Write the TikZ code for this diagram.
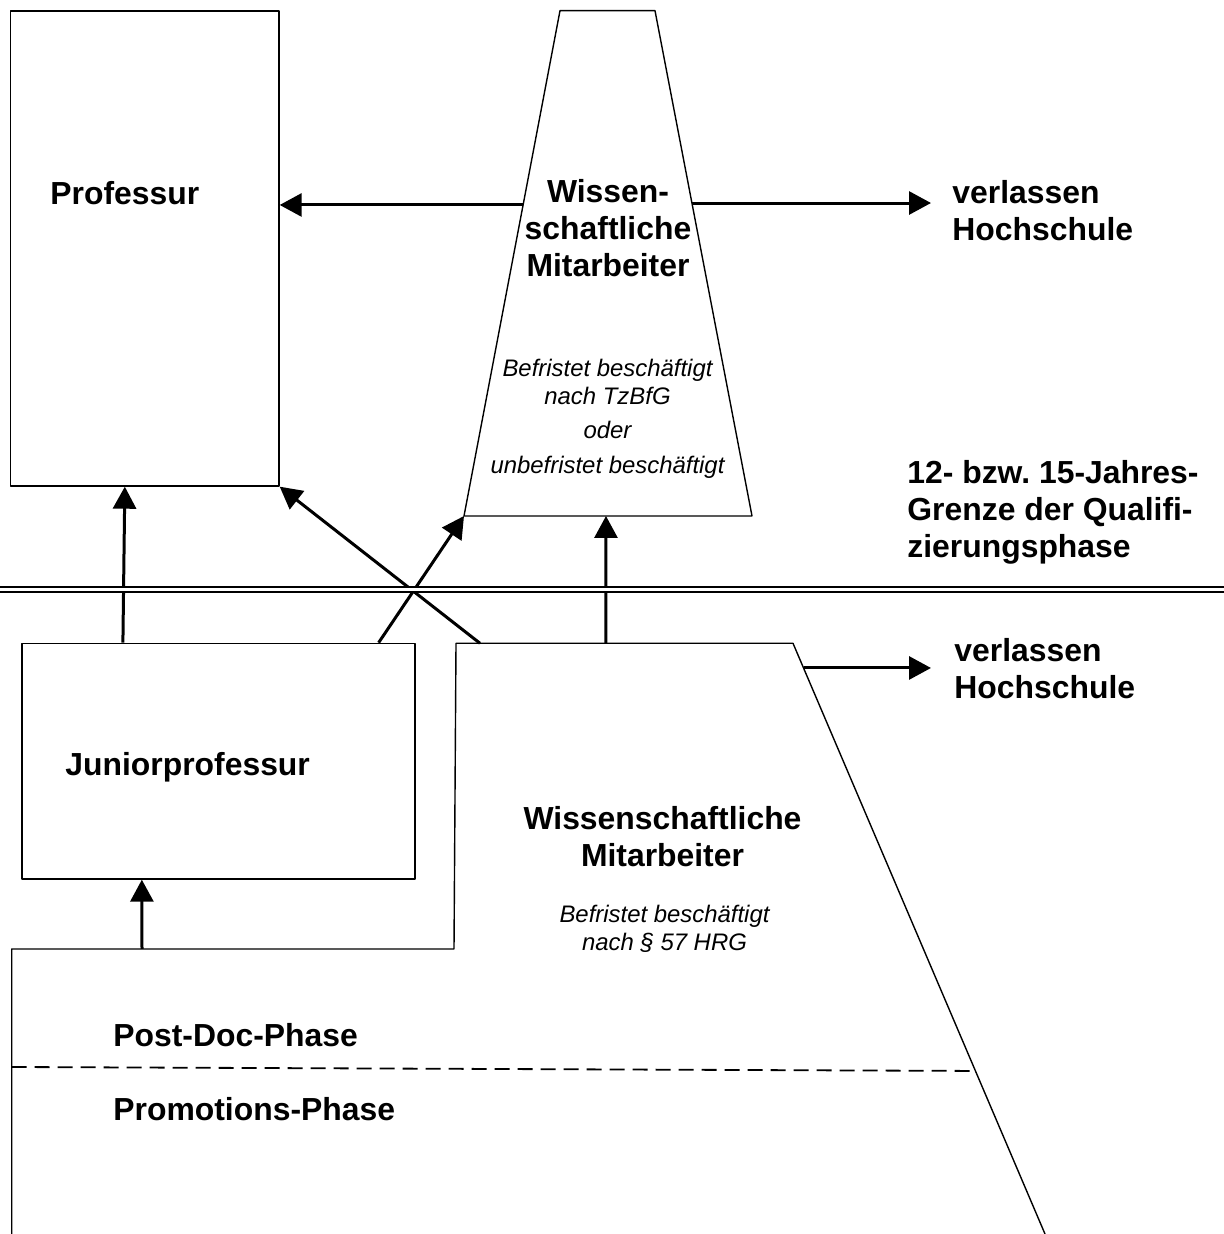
\documentclass[tikz,border=0pt]{standalone}
\usepackage{fontspec}
\setmainfont{Liberation Sans}
\usepackage{tikz}
\usetikzlibrary{arrows.meta}
\usetikzlibrary{calc}

\begin{document}
\begin{tikzpicture}[>={Triangle[length=11bp,width=11.5bp]},line join=bevel,
  boxnode/.style={draw,line width=0.7bp,inner sep=0pt},
  edgeline/.style={line width=0.7bp},
  lbl/.style={inner sep=0pt,font=\fontsize{16}{18.5}\selectfont\bfseries},
  note/.style={inner sep=0pt,align=center,font=\fontsize{12}{14}\selectfont\itshape},
  arr/.style={black,line width=1.5bp,->}]
%%
\useasboundingbox (0bp,0bp) rectangle (612bp,617bp);
\node (node_prof) at (72.4bp,492.75bp) [boxnode,minimum width=134.2bp,minimum height=237.5bp] {};
  \node (node_jp) at (109.2bp,236.4bp) [boxnode,minimum width=196.6bp,minimum height=117.8bp] {};
  \coordinate (wm_tl) at (280bp,611.65bp);
  \coordinate (wm_tr) at (327.5bp,611.65bp);
  \coordinate (wm_br) at (376bp,359bp);
  \coordinate (wm_bl) at (232bp,359bp);
  \draw [edgeline] (wm_tl) -- (wm_tr) -- (wm_br) -- (wm_bl) -- cycle;
  \coordinate (lo_a) at (5.85bp,0bp);
  \coordinate (lo_b) at (5.85bp,142.5bp);
  \coordinate (lo_c) at (227bp,142.5bp);
  \coordinate (lo_d) at (228bp,295.35bp);
  \coordinate (lo_e) at (396.5bp,295.35bp);
  \coordinate (lo_f) at (522.5bp,0bp);
  \draw [edgeline] (lo_a) -- (lo_b) -- (lo_c) -- (lo_d) -- (lo_e) -- (lo_f);
%
  \node (txt_prof) at (25bp,514.5bp) [lbl,anchor=base west] {Professur};
  \node (txt_jp) at (32.5bp,229bp) [lbl,anchor=base west] {Juniorprofessur};
  \node (txt_wm1) at (304bp,503bp) [lbl,align=center] {Wissen-\\schaftliche\\Mitarbeiter};
  \node (txt_wm1note) at (303.75bp,407.5bp) [note] {Befristet beschäftigt\\nach TzBfG\\[3pt]oder\\[4pt]unbefristet beschäftigt};
  \node (txt_wm2) at (331.25bp,198.5bp) [lbl,align=center] {Wissenschaftliche\\Mitarbeiter};
  \node (txt_wm2note) at (332.25bp,152.5bp) [note] {Befristet beschäftigt\\nach § 57 HRG};
  \node (txt_exit1) at (476bp,511.75bp) [lbl,align=left,anchor=west] {verlassen\\Hochschule};
  \node (txt_exit2) at (477bp,282.75bp) [lbl,align=left,anchor=west] {verlassen\\Hochschule};
  \node (txt_limit) at (453.5bp,361bp) [lbl,align=left,anchor=west] {12- bzw.\ 15-Jahres-\\Grenze der Qualifi-\\zierungsphase};
  \node (txt_postdoc) at (56.5bp,93.5bp) [lbl,anchor=base west] {Post-Doc-Phase};
  \node (txt_promo) at (56.5bp,56.5bp) [lbl,anchor=base west] {Promotions-Phase};
%
  \coordinate (wm_l) at ($(wm_tl)!0.3845!(wm_bl)$);
  \coordinate (wm_r) at ($(wm_tr)!0.3806!(wm_br)$);
  \coordinate (lo_x) at ($(lo_e)!0.0418!(lo_f)$);
  \coordinate (exit_top) at (465.5bp,515.5bp);
  \coordinate (exit_low) at (465.5bp,283bp);
  \coordinate (dash_l) at (5.85bp,83.5bp);
  \draw [arr] (wm_l) -- (wm_l -| node_prof.east);
  \draw [arr] (wm_r) -- (wm_r -| exit_top);
  \draw [arr] (lo_x) -- (lo_x -| exit_low);
  \draw [arr] ($(node_jp.north west)!0.258!(node_jp.north east)$) -- ($(node_prof.south west)!0.426!(node_prof.south east)$);
  \draw [arr] ($(node_jp.north west)!0.906!(node_jp.north east)$) -- (wm_bl);
  \draw [arr] ($(lo_d)!0.0712!(lo_e)$) -- (node_prof.south east);
  \draw [arr] ($(lo_d)!0.445!(lo_e)$) -- ($(wm_bl)!0.493!(wm_br)$);
  \draw [arr] ($(lo_b)!0.2946!(lo_c)$) -- ($(node_jp.south west)!0.306!(node_jp.south east)$);
%
  \draw [line width=0.9bp,dash pattern=on 7.5bp off 4bp] (dash_l) -- ($(lo_e)!0.724!(lo_f)$);
  \draw [line width=1bp,double,double distance=1.5bp] (0bp,322.3bp) -- (612bp,322.3bp);
%
\end{tikzpicture}
\end{document}
